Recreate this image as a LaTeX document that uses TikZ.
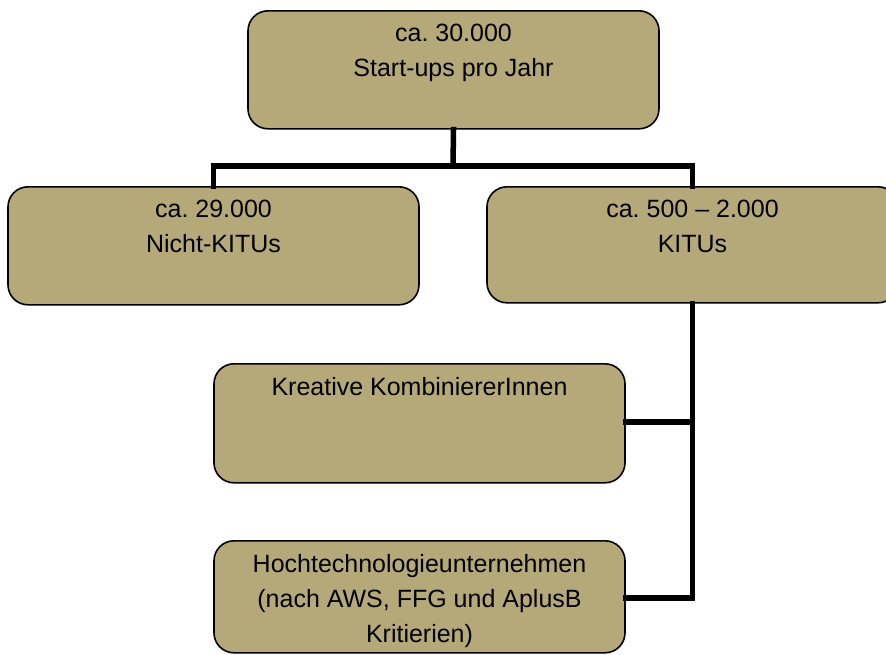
\documentclass[tikz,border=0pt]{standalone}
\usepackage{fontspec}
\setmainfont{Liberation Sans}
\frenchspacing
\definecolor{boxfill}{RGB}{181,169,122}
\begin{document}
\begin{tikzpicture}[x=1pt,y=-1pt,
  box/.style={draw=black,line width=1.6pt,fill=boxfill,rounded corners=20pt,minimum width=411pt,inner sep=0pt,anchor=north},
  lbl/.style={anchor=north,inner sep=0pt,align=center,font=\fontsize{25}{35}\selectfont\frenchspacing,text=black},
  conn/.style={draw=black,line width=5.5pt}]
\useasboundingbox (0,0) rectangle (886,654);
\clip (0,0) rectangle (886,654);
\node[box,minimum height=118pt] (top) at (453.5,10) {};
\node[box,minimum height=118pt] (left) at (213.5,186) {};
\node[box,minimum height=116pt] (right) at (692.5,186) {};
\node[box,minimum height=119pt] (krea) at (419.5,363) {};
\node[box,minimum height=112pt] (hoch) at (419.5,540) {};
\node[lbl] (ttop) at ([yshift=-14pt]top.north) {ca. 30.000\\Start-ups pro Jahr};
\node[lbl] (tleft) at ([yshift=-14pt]left.north) {ca. 29.000\\Nicht-KITUs};
\node[lbl] (tright) at ([yshift=-14pt]right.north) {ca. 500 – 2.000\\KITUs};
\node[lbl] (tkrea) at ([yshift=-14pt]krea.north) {Kreative KombiniererInnen};
\node[lbl] (thoch) at ([yshift=-14pt]hoch.north) {Hochtechnologieunternehmen\\(nach AWS, FFG und AplusB\\Kritierien)};
\coordinate (bar) at (453,166);
\coordinate (kj) at (692.5,422);
\coordinate (hj) at (692.5,598);
\begin{scope}[line cap=rect]
\draw[conn] (top.south) -- (bar);
\draw[conn] (left.north) -- (left.north |- bar) -- (right.north |- bar) -- (right.north);
\draw[conn] (right.south) -- (hj) -- (hoch.east |- hj);
\draw[conn] (krea.east |- kj) -- (kj);
\end{scope}
\end{tikzpicture}
\end{document}
